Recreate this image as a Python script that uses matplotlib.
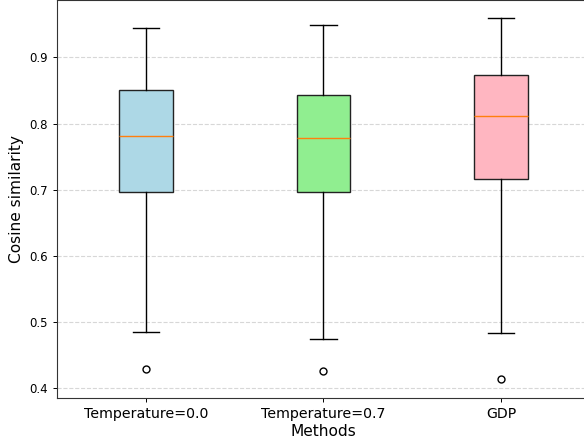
import matplotlib
matplotlib.use("Agg")
import matplotlib.pyplot as plt

methods = ["Temperature=0.0", "Temperature=0.7", "GDP"]
whisker_low = [0.485, 0.475, 0.483]
q1 = [0.697, 0.697, 0.716]
medians = [0.781, 0.779, 0.812]
q3 = [0.851, 0.843, 0.874]
whisker_high = [0.944, 0.949, 0.959]
outliers = [[0.429], [0.426], [0.414]]
colors = ["lightblue", "lightgreen", "lightpink"]

stats = []
for i, m in enumerate(methods):
    stats.append(dict(label=m, whislo=whisker_low[i], q1=q1[i], med=medians[i],
                      q3=q3[i], whishi=whisker_high[i], fliers=outliers[i]))

fig = plt.figure(figsize=(5.84, 4.42), dpi=100)
ax = fig.add_axes([0.098, 0.1002, 0.9117, 0.8987])

lw = 1.0
bp = ax.bxp(stats, widths=0.3, patch_artist=True,
            boxprops=dict(linewidth=lw, edgecolor="#222222"),
            whiskerprops=dict(linewidth=lw),
            capprops=dict(linewidth=lw),
            medianprops=dict(color="#ff7f0e", linewidth=lw),
            flierprops=dict(marker="o", markersize=5, markeredgewidth=lw,
                            markerfacecolor="none", markeredgecolor="black"))
for patch, c in zip(bp["boxes"], colors):
    patch.set_facecolor(c)

ax.set_ylim(0.386, 0.986)
ax.yaxis.grid(True, linestyle="--", linewidth=0.8, color="lightgray", alpha=0.9)
ax.set_axisbelow(True)

ax.tick_params(axis="y", labelsize=8.5, width=0.7, length=3)
ax.tick_params(axis="x", labelsize=10.2, width=0.7, length=3)
for s in ax.spines.values():
    s.set_linewidth(0.8)
    s.set_color("#333333")

ax.set_xlabel("Methods", fontsize=11.1, labelpad=2)
ax.set_ylabel("Cosine similarity", fontsize=11.1)

fig.savefig("out.png", dpi=100)
